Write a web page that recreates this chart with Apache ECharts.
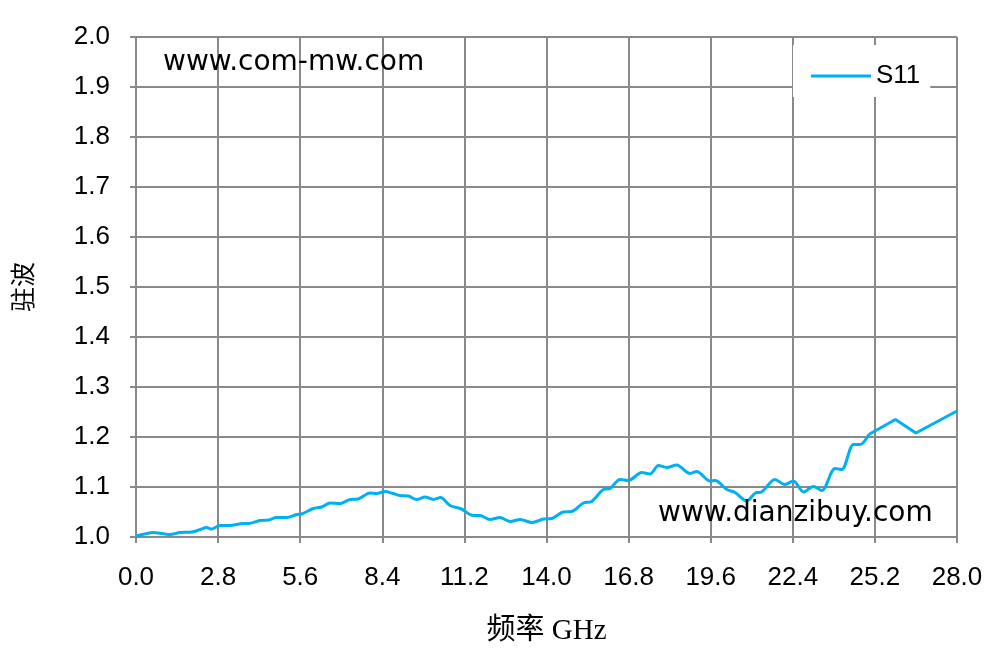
<!DOCTYPE html>
<html>
<head>
<meta charset="utf-8">
<script src="https://cdn.jsdelivr.net/npm/echarts@6/dist/echarts.min.js"></script>
<style>html,body{margin:0;padding:0;background:#fff;}#c{width:990px;height:652px;}</style>
</head>
<body>
<div id="c"></div>
<script>
const freqGHz = [0.0,0.3,0.59,0.9,1.16,1.5,1.9,2.2,2.41,2.58,2.86,3.2,3.66,3.83,4.23,4.52,4.8,5.14,5.48,5.65,6.05,6.33,6.62,6.96,7.3,7.58,7.98,8.21,8.49,8.77,9.0,9.29,9.57,9.86,10.14,10.39,10.71,11.1,11.5,11.73,12.07,12.41,12.76,13.1,13.5,13.9,14.18,14.57,14.86,15.26,15.54,15.94,16.17,16.51,16.79,17.25,17.53,17.82,18.1,18.44,18.9,19.12,19.58,19.75,20.15,20.43,20.83,21.17,21.28,21.79,22.13,22.42,22.77,23.1,23.39,23.84,24.07,24.47,24.7,24.99,25.9,26.6,28.0];
const s11 = [1.002,1.006,1.009,1.007,1.005,1.009,1.010,1.015,1.019,1.016,1.023,1.023,1.027,1.027,1.033,1.034,1.039,1.039,1.045,1.046,1.057,1.060,1.068,1.067,1.075,1.076,1.088,1.087,1.091,1.087,1.083,1.082,1.075,1.080,1.075,1.079,1.063,1.056,1.043,1.043,1.035,1.039,1.031,1.035,1.029,1.036,1.037,1.050,1.051,1.068,1.071,1.095,1.097,1.115,1.113,1.129,1.126,1.143,1.139,1.144,1.127,1.131,1.112,1.113,1.095,1.089,1.072,1.089,1.089,1.115,1.105,1.112,1.090,1.101,1.093,1.137,1.135,1.185,1.185,1.205,1.235,1.208,1.252];
// index from which the trace is drawn with straight segments (sparse high-frequency points)
const straightFrom = 79;
const seriesName = 'S11';
const xTitle = '频率 GHz';
const yTitle = '驻波';
const watermark1 = 'www.com-mw.com';
const watermark2 = 'www.dianzibuy.com';

const pts = freqGHz.map((f, i) => [f, s11[i]]);
const chart = echarts.init(document.getElementById('c'), null, {renderer: 'canvas'});
const gridColor = '#898989';
const tickFont = {fontFamily: 'Liberation Sans', fontSize: 26, color: '#000'};
const lineColor = '#00B0F0';
chart.setOption({
  animation: false,
  backgroundColor: '#fff',
  grid: {left: 136, right: 33, top: 37, bottom: 115, containLabel: false},
  xAxis: {
    type: 'value', min: 0, max: 28, interval: 2.8,
    name: xTitle, nameLocation: 'middle', nameGap: 80,
    nameTextStyle: {fontFamily: 'Liberation Serif, Noto Sans CJK SC', fontSize: 29, color: '#000'},
    axisLine: {show: true, lineStyle: {color: gridColor, width: 2}},
    axisTick: {show: true, length: 6, lineStyle: {color: gridColor, width: 2}},
    splitLine: {show: true, lineStyle: {color: gridColor, width: 2}},
    axisLabel: Object.assign({margin: 28, formatter: v => v.toFixed(1)}, tickFont)
  },
  yAxis: {
    type: 'value', min: 1.0, max: 2.0, interval: 0.1,
    name: yTitle, nameLocation: 'middle', nameGap: 98, nameRotate: 90,
    nameTextStyle: {fontFamily: 'Liberation Serif, Noto Sans CJK SC', fontSize: 25, color: '#000'},
    axisLine: {show: true, lineStyle: {color: gridColor, width: 2}},
    axisTick: {show: true, length: 6, lineStyle: {color: gridColor, width: 2}},
    splitLine: {show: true, lineStyle: {color: gridColor, width: 2}},
    axisLabel: Object.assign({margin: 26, formatter: v => v.toFixed(1)}, tickFont)
  },
  legend: {
    show: true, left: 793, top: 45,
    padding: [18, 10, 8, 18],
    backgroundColor: '#fff',
    itemWidth: 60, itemHeight: 3, itemGap: 5,
    textStyle: {fontFamily: 'Liberation Sans', fontSize: 26, color: '#000'},
    data: [{name: seriesName, icon: 'rect'}]
  },
  graphic: [
    {type: 'text', left: 163, top: 49, z: 5, style: {text: watermark1, font: '28px "DejaVu Sans"', fill: '#000'}},
    {type: 'text', left: 658, top: 500, z: 5, style: {text: watermark2, font: '28px "DejaVu Sans"', fill: '#000'}}
  ],
  series: [{
    name: seriesName, type: 'line', symbol: 'none', smooth: 0.3,
    lineStyle: {color: lineColor, width: 3},
    itemStyle: {color: lineColor},
    data: pts.slice(0, straightFrom + 1)
  }, {
    name: seriesName, type: 'line', symbol: 'none', smooth: false,
    lineStyle: {color: lineColor, width: 3},
    itemStyle: {color: lineColor},
    data: pts.slice(straightFrom)
  }]
});
</script>
</body>
</html>
